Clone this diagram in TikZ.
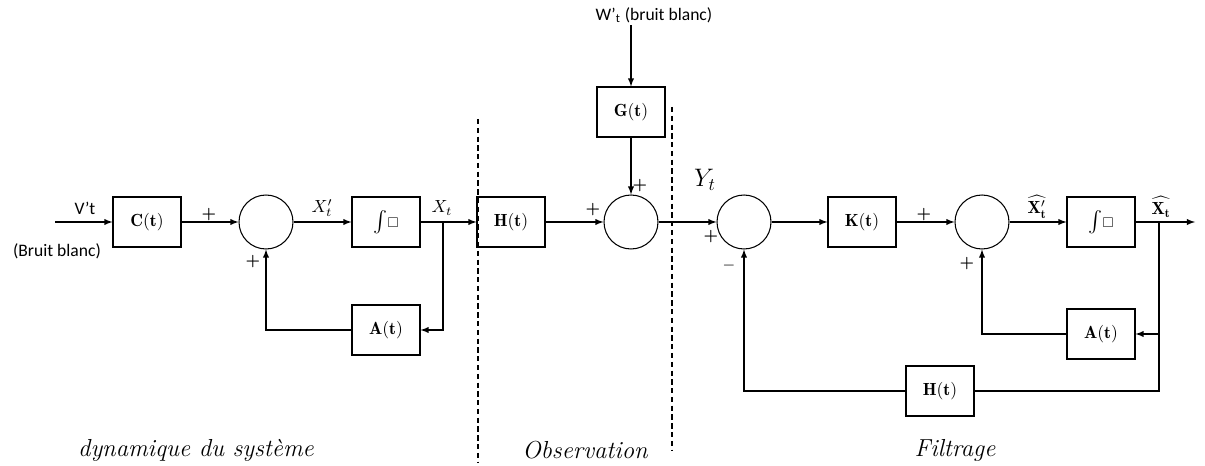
\documentclass[tikz,border=0pt]{standalone}
\usepackage{amsmath,amssymb}
\usepackage{fontspec}
\newfontfamily\calibri{Carlito}
\usepackage{tikz}
\usetikzlibrary{shapes,arrows,positioning}

\begin{document}
\begin{tikzpicture}[x=0.02cm, y=-0.02cm, >=latex, line width=0.6pt,
  bloc/.style={draw, minimum width=1.36cm, minimum height=1cm, inner sep=0pt},
  somme/.style={draw, circle, minimum size=1.08cm, inner sep=0pt},
  signe/.style={font=\small\bfseries, inner sep=0pt},
  texte/.style={font=\calibri, inner sep=1pt},
  zone/.style={font=\fontsize{14}{16}\selectfont\itshape}]
  \useasboundingbox (0,0) rectangle (1205,466);

  % dynamique du systeme
  \coordinate (entree) at (55,222);
  \node[bloc] (C) at (147,222) {$\mathbf{C}(\mathbf{t})$};
  \node[somme] (s1) at (266,222) {};
  \node[bloc] (int1) at (386,222) {\large$\int\!{\scriptstyle\square}$};
  \node[bloc] (A1) at (386,330) {$\mathbf{A}(\mathbf{t})$};
  \coordinate (b1) at (443,222);
  \node[texte] (vlbl) at (85,208) {V’t};
  \node[texte] (bruit1) at (57,251) {(Bruit blanc)};
  \node (xp) at (322,208) {$X'_t$};
  \node (x) at (442,208) {$X_t$};

  % observation
  \node[bloc] (H1) at (511,222) {$\mathbf{H}(\mathbf{t})$};
  \node[somme] (s2) at (631,222) {};
  \node[bloc] (G) at (631,112) {$\mathbf{G}(\mathbf{t})$};
  \node[texte] (wlbl) at (654,15) {W’\textsubscript{t} (bruit blanc)};

  % filtrage
  \node[somme] (s3) at (744,222) {};
  \node[bloc] (K) at (862,222) {$\mathbf{K}(\mathbf{t})$};
  \node[somme] (s4) at (982,222) {};
  \node[bloc] (int2) at (1101,222) {\large$\int\!{\scriptstyle\square}$};
  \node[bloc] (A2) at (1101,334) {$\mathbf{A}(\mathbf{t})$};
  \node[bloc] (H2) at (940,391) {$\mathbf{H}(\mathbf{t})$};
  \coordinate (b2) at (1159,222);
  \coordinate (sortie) at (1195,222);
  \node (y) at (705,180) {\Large $Y_t$};
  \node[inner sep=0pt] (xhp) at (1037,207) {$\widehat{\mathbf{X}_{\mathbf{t}}'}$};
  \node[inner sep=0pt] (xh) at (1161,207) {$\widehat{\mathbf{X}_{\mathbf{t}}}$};

  % liaisons
  \draw[->] (entree) -- (C.west);
  \draw[->] (C) -- (s1);
  \draw[->] (s1) -- (int1);
  \draw (int1.east) -- (b1);
  \draw[->] (b1) -- (H1.west);
  \draw[->] (b1) |- (A1.east);
  \draw[->] (A1.west) -| (s1.south);
  \draw[->] (H1) -- (s2);
  \draw[->] (wlbl.south -| G.north) -- (G.north);
  \draw[->] (G) -- (s2);
  \draw[->] (s2) -- (s3);
  \draw[->] (s3) -- (K);
  \draw[->] (K) -- (s4);
  \draw[->] (s4) -- (int2);
  \draw[->] (int2) -- (sortie);
  \draw[->] (b2) |- (A2.east);
  \draw[->] (A2.west) -| (s4.south);
  \draw (b2) |- (H2.east);
  \draw[->] (H2.west) -| (s3.south);

  % signes
  \node[signe] (p1) at (209,215) {+};
  \node[signe] (p2) at (253,262) {+};
  \node[signe] (p3) at (593,210) {+};
  \node[signe] (p4) at (640,186) {+};
  \node[signe] (p5) at (711,237) {+};
  \node[signe] (m1) at (729,266) {$-$};
  \node[signe] (p6) at (924,215) {+};
  \node[signe] (p7) at (967,264) {+};

  % zones
  \draw[dashed, dash pattern=on 3pt off 2pt] (478,119) -- (478,463);
  \draw[dashed, dash pattern=on 3pt off 2pt] (672,107) -- (672,450);
  \node[zone] (z1) at (196,450) {dynamique du système};
  \node[zone] (z2) at (585,450) {Observation};
  \node[zone] (z3) at (955,450) {Filtrage};
\end{tikzpicture}
\end{document}
